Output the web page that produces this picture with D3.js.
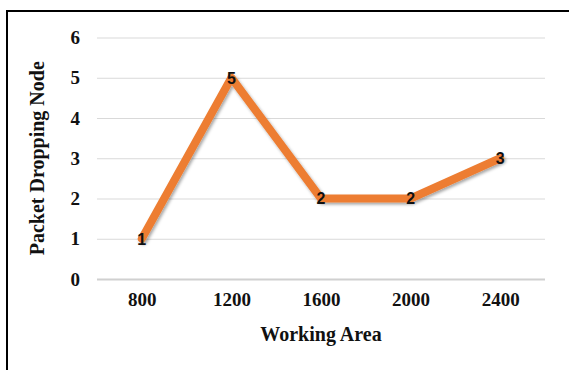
<!DOCTYPE html>
<html>
<head>
<meta charset="utf-8">
<script src="https://cdn.jsdelivr.net/npm/d3@7"></script>
<style>
  html, body { margin: 0; padding: 0; background: #fff; }
  svg { display: block; }
</style>
</head>
<body>
<svg id="chart" width="569" height="370"></svg>
<script>
// Working area sizes and the number of packet-dropping nodes for each
const areas = ["800", "1200", "1600", "2000", "2400"];
const droppingNodes = [1, 5, 2, 2, 3];
const yTicks = [0, 1, 2, 3, 4, 5, 6];

const svg = d3.select("#chart");
const W = 569, H = 370;
const plot = { left: 97, right: 545, top: 37.5, bottom: 279 };
const serif = "'Liberation Serif', 'Times New Roman', serif";

// frame around the chart
svg.append("rect")
  .attr("x", 7).attr("y", 11)
  .attr("width", W + 10).attr("height", H + 10)
  .attr("fill", "none").attr("stroke", "#000").attr("stroke-width", 2);

const x = d3.scalePoint().domain(areas).range([plot.left, plot.right]).padding(0.5);
const y = d3.scaleLinear().domain([0, 6]).range([plot.bottom, plot.top]);

// drop shadow for the series line
const defs = svg.append("defs");
const f = defs.append("filter").attr("id", "shadow")
  .attr("x", "-10%").attr("y", "-10%").attr("width", "130%").attr("height", "130%");
f.append("feDropShadow").attr("dx", 1.5).attr("dy", 2).attr("stdDeviation", 1.8)
  .attr("flood-color", "#000").attr("flood-opacity", 0.35);

// horizontal gridlines and value labels
const yAxis = d3.axisLeft(y).tickValues(yTicks).tickFormat(d3.format("d"))
  .tickSize(-(plot.right - plot.left)).tickPadding(17);
const gy = svg.append("g").attr("transform", `translate(${plot.left},0)`).call(yAxis);
gy.select(".domain").remove();
gy.selectAll(".tick line")
  .attr("stroke", d => d === 0 ? "#d0d0d0" : "#d9d9d9")
  .attr("stroke-width", d => d === 0 ? 2 : 1);
gy.selectAll(".tick text")
  .attr("font-family", serif)
  .attr("font-weight", "bold").attr("font-size", 19).attr("fill", "#111");

// category labels along the bottom
const xAxis = d3.axisBottom(x).tickSize(0).tickPadding(14);
const gx = svg.append("g").attr("transform", `translate(0,${plot.bottom})`).call(xAxis);
gx.select(".domain").remove();
gx.selectAll(".tick text")
  .attr("font-family", serif)
  .attr("font-weight", "bold").attr("font-size", 19).attr("fill", "#111");

// axis titles
svg.append("text")
  .attr("x", (plot.left + plot.right) / 2).attr("y", 341)
  .attr("text-anchor", "middle")
  .attr("font-family", serif)
  .attr("font-weight", "bold").attr("font-size", 20).attr("fill", "#111")
  .text("Working Area");

svg.append("text")
  .attr("transform", `translate(44,${(plot.top + plot.bottom) / 2}) rotate(-90)`)
  .attr("text-anchor", "middle")
  .attr("font-family", serif)
  .attr("font-weight", "bold").attr("font-size", 20).attr("fill", "#111")
  .text("Packet Dropping Node");

// the series line
const points = areas.map((a, i) => ({ a, v: droppingNodes[i] }));
const line = d3.line().x(d => x(d.a)).y(d => y(d.v));
svg.append("path")
  .datum(points)
  .attr("d", line)
  .attr("fill", "none")
  .attr("stroke", "#ED7D31")
  .attr("stroke-width", 8)
  .attr("stroke-linejoin", "round")
  .attr("stroke-linecap", "round")
  .attr("filter", "url(#shadow)");

// value labels at each point
svg.append("g").selectAll("text")
  .data(points)
  .join("text")
  .attr("x", d => x(d.a))
  .attr("y", d => y(d.v))
  .attr("dy", "0.36em")
  .attr("text-anchor", "middle")
  .attr("font-family", "'Liberation Sans', Arial, sans-serif")
  .attr("font-weight", "bold").attr("font-size", 16).attr("fill", "#111")
  .text(d => d.v);
</script>
</body>
</html>
